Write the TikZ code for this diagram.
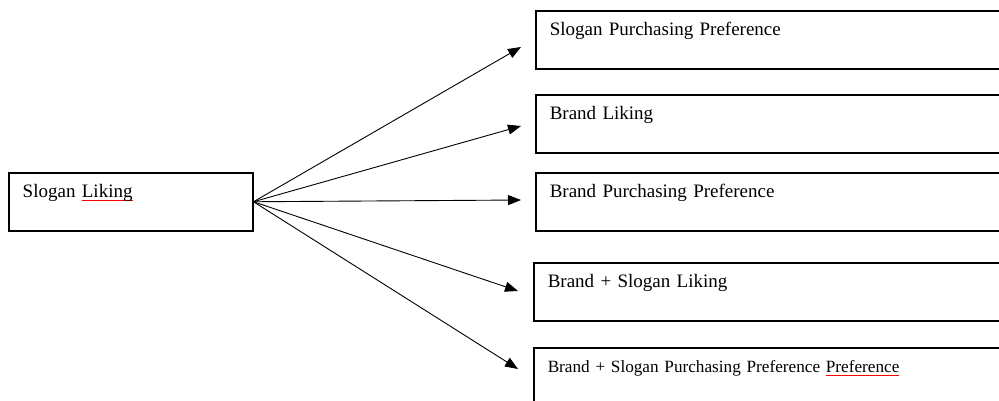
\documentclass[tikz,border=0pt]{standalone}
\usepackage{fontspec}
\setmainfont{Liberation Serif}
\usetikzlibrary{arrows.meta}

\newsavebox{\spellbox}
\newcommand{\spellmark}[1]{\sbox\spellbox{#1}\rlap{\color{red}\rule[-3.5pt]{\wd\spellbox}{1pt}}\usebox\spellbox}

\begin{document}
\begin{tikzpicture}[x=1pt, y=-1pt]

	\tikzstyle{caja}=[draw, rectangle, line width=1.5pt, anchor=north west, inner xsep=14pt, inner ysep=0pt, text height=25pt, text depth=33pt, align=left, font=\fontsize{19}{23}\selectfont]
	\tikzstyle{flecha}=[-{Triangle[length=13pt, width=10pt]}, line width=0.9pt]

	\useasboundingbox (0, 0) rectangle (999, 400);
	\clip (0, 0) rectangle (999, 400);

	\coordinate (s_l) at (8, 172); % ORIGEN
	\coordinate (d_1) at (535, 10); % DESTINOS
	\coordinate (d_2) at (535, 94); % DESTINOS
	\coordinate (d_3) at (535, 172); % DESTINOS
	\coordinate (d_4) at (533, 262); % DESTINOS
	\coordinate (d_5) at (533, 347); % DESTINOS

	\coordinate (t_1) at (521, 47); % PUNTAS
	\coordinate (t_2) at (521, 126); % PUNTAS
	\coordinate (t_3) at (521, 200); % PUNTAS
	\coordinate (t_4) at (518, 291); % PUNTAS
	\coordinate (t_5) at (518, 369); % PUNTAS

	\node[caja, text width=216pt] (s_l) at (s_l) {Slogan \spellmark{Liking}}; % ORIGEN
	\node[caja, text width=452pt] (d_1) at (d_1) {Slogan Purchasing Preference}; % DESTINOS
	\node[caja, text width=452pt] (d_2) at (d_2) {Brand Liking}; % DESTINOS
	\node[caja, text width=452pt] (d_3) at (d_3) {Brand Purchasing Preference}; % DESTINOS
	\node[caja, text width=452pt] (d_4) at (d_4) {Brand + Slogan Liking}; % DESTINOS
	\node[caja, text width=452pt, font=\fontsize{17.2}{21}\selectfont] (d_5) at (d_5) {Brand + Slogan Purchasing Preference \spellmark{Preference}}; % DESTINOS

	%%%%%%%%%%%%%%%%%%%%%%%%%%%%%%%%%
	%%%%%%%%%%%%%%%%%%%%%%%%%%%%%%%%%
	\draw[flecha] (s_l.east) -- (t_1);
	\draw[flecha] (s_l.east) -- (t_2);
	\draw[flecha] (s_l.east) -- (t_3);
	\draw[flecha] (s_l.east) -- (t_4);
	\draw[flecha] (s_l.east) -- (t_5);
	%%%%%%%%%%%%%%%%%%%%%%%%%%%%%%%%%
	%%%%%%%%%%%%%%%%%%%%%%%%%%%%%%%%%
\end{tikzpicture}
\end{document}
